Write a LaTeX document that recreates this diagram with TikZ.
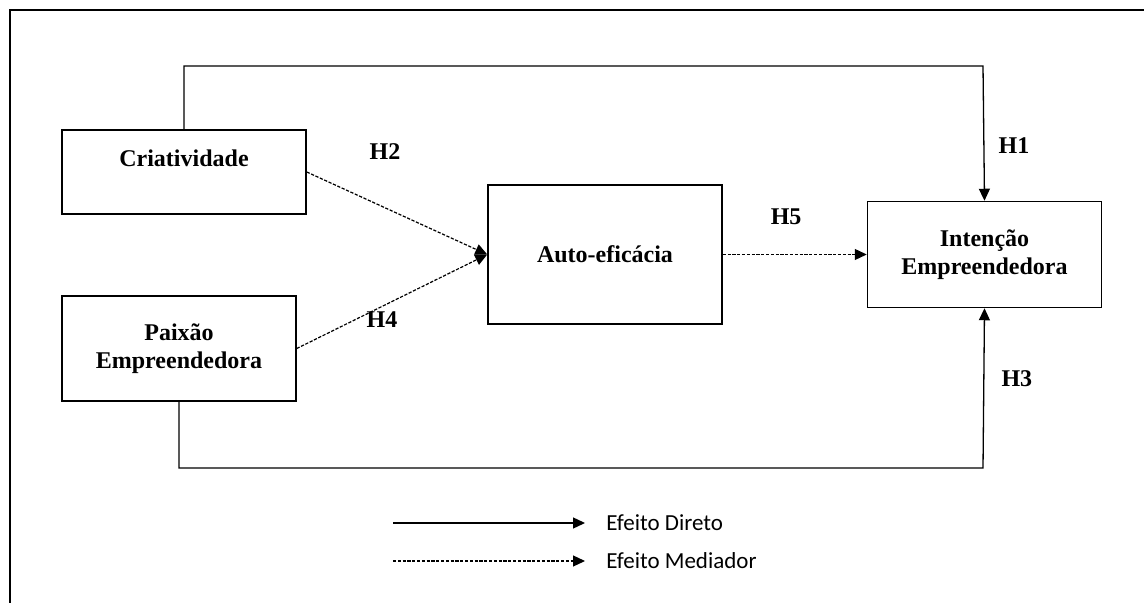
\documentclass[tikz,border=0pt]{standalone}
\usepackage{fontspec}
\setmainfont{Liberation Serif}
\newfontfamily\legendfont{Carlito}
\usetikzlibrary{arrows.meta,positioning}

\begin{document}
\begin{tikzpicture}[x=0.5pt, y=-0.5pt, >={Triangle[length=6pt,width=5.5pt]},
    box/.style={draw, line width=0.75pt, align=center, font=\bfseries\fontsize{12}{14}\selectfont},
    hyp/.style={font=\bfseries\fontsize{12}{14}\selectfont},
    direct/.style={->, line width=0.65pt},
    mediated/.style={->, line width=0.6pt, dash pattern=on 1.6pt off 0.8pt},
    legendtext/.style={font=\legendfont\fontsize{11.5}{13}\selectfont, inner sep=0pt}]
  \useasboundingbox (0,0) rectangle (1144,603);
  \draw[line width=1.4pt] (10,603) -- (10,10) -- (1144,10);

  \node[box, minimum width=122pt, minimum height=42pt] (cria) at (184,172) {Criatividade\\\mbox{}};
  \node[box, minimum width=117pt, minimum height=52.5pt] (paixao) at (179,348.5) {Paixão\\Empreendedora};
  \node[box, minimum width=117pt, minimum height=69.5pt] (auto) at (605,254.5) {Auto-eficácia};
  \node[box, minimum width=117pt, minimum height=53pt, right=72pt of auto] (intencao) {Intenção\\Empreendedora};

  \coordinate (topbend) at (983,66);
  \coordinate (botbend) at (983,468);
  \draw[direct] (cria.north) |- (topbend) -- node[hyp, pos=.59, right=3.7pt] {H1} (intencao.north);
  \draw[direct] (paixao.south) |- (botbend) -- node[hyp, pos=.56, right=5.2pt] {H3} (intencao.south);
  \draw[mediated] (cria.east) -- (auto.west);
  \draw[mediated] (paixao.east) -- (auto.west);
  \draw[mediated] (auto.east) -- node[hyp, pos=.44, above=11pt] {H5} (intencao.west);
  \node[hyp] (h2) at (385,152) {H2};
  \node[hyp] (h4) at (382,320) {H4};

  % legenda
  \coordinate (dirA) at (393,523);
  \coordinate (dirB) at (585,523);
  \coordinate (medA) at (393,561);
  \coordinate (medB) at (585,561);
  \draw[direct] (dirA) -- (dirB);
  \draw[mediated] (medA) -- (medB);
  \node[legendtext, right=10.5pt of dirB] (direto) {Efeito Direto};
  \node[legendtext, right=10.5pt of medB] (mediador) {Efeito Mediador};
\end{tikzpicture}
\end{document}
